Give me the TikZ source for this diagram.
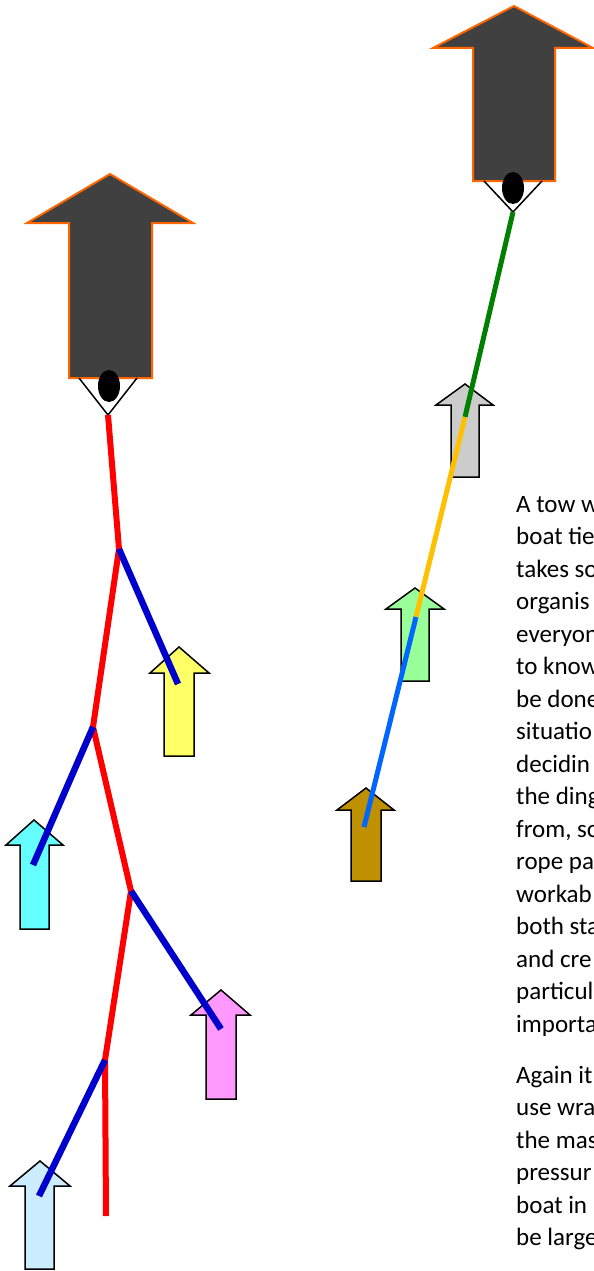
\documentclass[tikz,border=0pt]{standalone}
\usepackage{fontspec}
\setmainfont{Carlito}
\definecolor{bigfill}{HTML}{404040}
\definecolor{bigline}{HTML}{FF6600}
\definecolor{cyellow}{HTML}{FFFF66}
\definecolor{ccyan}{HTML}{66FFFF}
\definecolor{cpink}{HTML}{FF99FF}
\definecolor{clblue}{HTML}{CCECFF}
\definecolor{cgray}{HTML}{CCCCCC}
\definecolor{cgreen}{HTML}{99FF99}
\definecolor{cbrown}{HTML}{BF9000}
\definecolor{rred}{HTML}{FF0000}
\definecolor{rblue}{HTML}{0000CC}
\definecolor{rgreen}{HTML}{008000}
\definecolor{rorange}{HTML}{FFC000}
\definecolor{rlblue}{HTML}{0066FF}
\tikzset{
  bigarrow/.style={fill=bigfill, draw=bigline, line width=2pt, line join=miter},
  smallarrow/.style={draw=black, line width=1.5pt, line join=miter},
  person/.style={fill=black, draw=none},
  vline/.style={draw=black, line width=1.5pt},
  redrope/.style={draw=rred, line width=6pt, line join=miter, line cap=butt},
  bluerope/.style={draw=rblue, line width=6.5pt, line cap=butt},
  towrope/.style={line width=5pt, line cap=butt},
  txt/.style={anchor=base west, inner sep=0pt, font=\fontsize{25}{30}\selectfont}
}
\begin{document}
\begin{tikzpicture}[x=1pt,y=-1pt]
\useasboundingbox (0,0) rectangle (594,1271);
\clip (0,0) rectangle (594,1271);
\fill[white] (0,0) rectangle (594,1271);

% big arrows
\draw[bigarrow] (110,174) -- (193,223) -- (152,223) -- (152,378) -- (69,378) -- (69,223) -- (27,223) -- cycle;
\draw[bigarrow] (514,6) -- (593,48) -- (555,48) -- (555,181) -- (473,181) -- (473,48) -- (433,48) -- cycle;

% persons
\coordinate (P0) at (108,415);
\coordinate (R0) at (513,212);
\draw[vline] (79,378) -- (P0) -- (137,378);
\fill[person] (109,386) ellipse [x radius=11, y radius=16];
\draw[vline] (484,181) -- (R0) -- (542,181);
\fill[person] (513,188) ellipse [x radius=11, y radius=16];

% small arrows
\draw[smallarrow, fill=cyellow] (179,647) -- (209,673) -- (194,673) -- (194,756) -- (164,756) -- (164,673) -- (150,673) -- cycle;
\draw[smallarrow, fill=ccyan] (34,820) -- (63,845) -- (49,845) -- (49,929) -- (20,929) -- (20,845) -- (6,845) -- cycle;
\draw[smallarrow, fill=cpink] (221,990) -- (250,1015) -- (236,1015) -- (236,1099) -- (206,1099) -- (206,1015) -- (191,1015) -- cycle;
\draw[smallarrow, fill=clblue] (40,1161) -- (70,1186) -- (54,1186) -- (54,1269) -- (25,1269) -- (25,1186) -- (10,1186) -- cycle;
\draw[smallarrow, fill=cgray] (465,384) -- (493,405) -- (479,405) -- (479,477) -- (451,477) -- (451,405) -- (436,405) -- cycle;
\draw[smallarrow, fill=cgreen] (415,588) -- (444,609) -- (429,609) -- (429,681) -- (401,681) -- (401,609) -- (386,609) -- cycle;
\draw[smallarrow, fill=cbrown] (366,788) -- (394,810) -- (381,810) -- (381,881) -- (351,881) -- (351,810) -- (337,810) -- cycle;

% left tow ropes
\coordinate (J1) at (119,549);
\coordinate (J2) at (93,727);
\coordinate (J3) at (131,891);
\coordinate (J4) at (105,1060);
\coordinate (E) at (106,1216);
\coordinate (B1) at (178,684);
\coordinate (B2) at (33,865);
\coordinate (B3) at (221,1029);
\coordinate (B4) at (39,1196);
\draw[redrope] (P0) -- (J1) -- (J2) -- (J3) -- (J4) -- (E);
\draw[bluerope] (J1) -- (B1);
\draw[bluerope] (J2) -- (B2);
\draw[bluerope] (J3) -- (B3);
\draw[bluerope] (J4) -- (B4);

% right tow rope
\coordinate (R1) at (465,417);
\coordinate (R2) at (416,617);
\coordinate (R3) at (364,827);
\draw[towrope, draw=rgreen] (R0) -- (R1);
\draw[towrope, draw=rorange] (R1) -- (R2);
\draw[towrope, draw=rlblue] (R2) -- (R3);

% text
\foreach \t [count=\i] in {A tow w, boat tie, takes so, organis, everyon, to know, be done, situatio, decidin, the ding, {from, so}, rope pa, workab, both sta, and cre, particul, importa}
  \node[txt] (pa\i) at (516,{512+32.5*(\i-1)}) {\t};
\foreach \t [count=\i] in {Again it, use wra, the mas, pressur, boat in, be large}
  \node[txt] (pb\i) at (516,{1083+32.5*(\i-1)}) {\t};
\end{tikzpicture}
\end{document}
